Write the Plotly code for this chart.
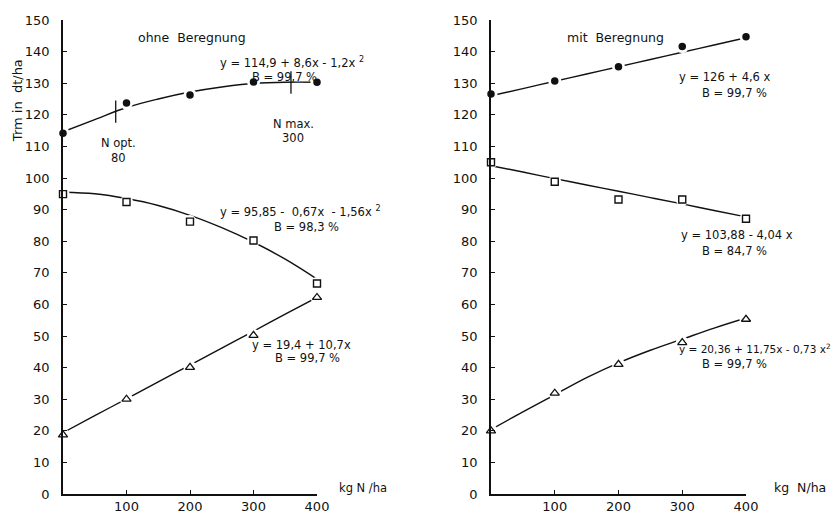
import plotly.graph_objects as go

# ---------------- data ----------------
n_levels = [0, 100, 200, 300, 400]

# ohne Beregnung (left)
left_dots = [114.2, 123.7, 126.3, 130.4, 130.3]
left_squares = [94.9, 92.4, 86.2, 80.2, 66.6]
left_triangles = [18.7, 30.0, 40.1, 50.2, 62.2]

# mit Beregnung (right)
right_dots = [126.6, 130.7, 135.2, 141.6, 144.7]
right_squares = [105.0, 98.8, 93.2, 93.2, 87.1]
right_triangles = [20.0, 31.9, 41.0, 47.9, 55.3]

# fitted curves
fit_x = [0, 50, 100, 150, 200, 250, 300, 350, 400]
left_dots_fit = [114.6, 118.5, 122.3, 125.0, 127.2, 128.8, 129.9, 130.3, 130.3]
left_squares_fit = [95.5, 95.0, 93.5, 91.3, 88.2, 84.3, 79.7, 74.3, 68.0]
left_triangles_fit = [19.4, 24.8, 30.1, 35.5, 40.8, 46.2, 51.5, 56.9, 62.2]
right_dots_fit = [126.0, 128.3, 130.6, 132.9, 135.2, 137.5, 139.8, 142.1, 144.4]
right_squares_fit = [103.9, 101.9, 99.8, 97.8, 95.8, 93.8, 91.8, 89.7, 87.7]
right_triangles_fit = [20.4, 26.0, 31.4, 36.8, 41.5, 45.5, 49.0, 52.5, 55.7]

# N opt / N max markers on the left dot curve
nmark_x = [83, 359]
nmark_y = [121.0, 130.2]

y_ticks = list(range(0, 151, 10))
x_ticks = [100, 200, 300, 400]
x_ticklabels = ["100", "200", "300", "400"]

FONT = "DejaVu Sans, Liberation Sans, sans-serif"
BLACK = "#111111"

fig = go.Figure()


def add_panel(xa, ya, dots, squares, tris, dfit, sfit, tfit):
    for fy in (dfit, sfit, tfit):
        fig.add_trace(go.Scatter(x=fit_x, y=fy, mode="lines", line=dict(color=BLACK, width=1.4, shape="spline"),
                                 xaxis=xa, yaxis=ya, showlegend=False, hoverinfo="skip"))
    # white masks to create gaps around markers
    for vals in (dots, squares, tris):
        fig.add_trace(go.Scatter(x=n_levels, y=vals, mode="markers",
                                 marker=dict(symbol="circle", size=13, color="white", line=dict(width=0)),
                                 xaxis=xa, yaxis=ya, showlegend=False, hoverinfo="skip", cliponaxis=False))
    fig.add_trace(go.Scatter(x=n_levels, y=dots, mode="markers",
                             marker=dict(symbol="circle", size=7.5, color=BLACK),
                             xaxis=xa, yaxis=ya, showlegend=False, cliponaxis=False))
    fig.add_trace(go.Scatter(x=n_levels, y=squares, mode="markers",
                             marker=dict(symbol="square-open", size=7, color=BLACK, line=dict(width=1.4, color=BLACK)),
                             xaxis=xa, yaxis=ya, showlegend=False, cliponaxis=False))
    fig.add_trace(go.Scatter(x=n_levels, y=tris, mode="markers",
                             marker=dict(symbol="triangle-up-open", size=8, color=BLACK, line=dict(width=1.3, color=BLACK)),
                             xaxis=xa, yaxis=ya, showlegend=False, cliponaxis=False))


add_panel("x", "y", left_dots, left_squares, left_triangles,
          left_dots_fit, left_squares_fit, left_triangles_fit)
add_panel("x2", "y2", right_dots, right_squares, right_triangles,
          right_dots_fit, right_squares_fit, right_triangles_fit)

fig.add_trace(go.Scatter(x=nmark_x, y=nmark_y, mode="markers",
                         marker=dict(symbol="line-ns", size=16, line=dict(width=1.3, color=BLACK)),
                         xaxis="x", yaxis="y", showlegend=False, hoverinfo="skip"))

W, H = 838, 514
axis_common = dict(showgrid=False, zeroline=False, showline=True, linecolor=BLACK, linewidth=1.5,
                   ticks="inside", ticklen=4, tickcolor=BLACK, tickwidth=1.2, automargin=False,
                   tickfont=dict(family=FONT, size=13, color=BLACK))

fig.update_layout(
    width=W, height=H,
    margin=dict(l=0, r=0, t=20, b=20),
    paper_bgcolor="white", plot_bgcolor="white",
    xaxis=dict(domain=[63 / W, 317 / W], range=[0, 400], tickvals=x_ticks, ticktext=x_ticklabels,
               anchor="y", ticklabelstandoff=0, **axis_common),
    yaxis=dict(domain=[0, 1], range=[0, 150], tickvals=y_ticks, anchor="x",
               ticklabelstandoff=9, **axis_common),
    xaxis2=dict(domain=[491 / W, 746 / W], range=[0, 400], tickvals=x_ticks, ticktext=x_ticklabels,
                anchor="y2", ticklabelstandoff=0, **axis_common),
    yaxis2=dict(domain=[0, 1], range=[0, 150], tickvals=y_ticks, anchor="x2",
                ticklabelstandoff=9, **axis_common),
    font=dict(family=FONT, color=BLACK),
)


def px(xp, yp, text, xanchor="left", size=11, angle=0):
    fig.add_annotation(x=xp / W, y=1 - yp / H, xref="paper", yref="paper", text=text, showarrow=False,
                       xanchor=xanchor, yanchor="middle", textangle=angle,
                       font=dict(family=FONT, size=size, color=BLACK))


# titles
px(192, 19, "ohne  Beregnung", xanchor="center", size=12.5)
px(615, 19, "mit  Beregnung", xanchor="center", size=12.5)
# y axis title
px(17, 88, "Trm in  dt/ha", xanchor="center", size=13, angle=-90)
# x unit labels
px(337, 507, "kg N /ha", size=11.5)
px(772, 507, "kg  N/ha", size=12.5)

# left equations
px(218, 46, "y = 114,9 + 8,6x - 1,2x <sup>2</sup>", size=11.5)
px(250, 62, "B = 99,7 %", size=11.5)
px(218, 208, "y = 95,85 -  0,67x  - 1,56x <sup>2</sup>", size=11.5)
px(272, 224, "B = 98,3 %", size=11.5)
px(250, 352, "y = 19,4 + 10,7x", size=11.5)
px(273, 367, "B = 99,7 %", size=11.5)
px(118, 133, "N opt.", xanchor="center", size=11.5)
px(118, 150, "80", xanchor="center", size=11.5)
px(293, 113, "N max.", xanchor="center", size=11.5)
px(293, 128, "300", xanchor="center", size=11.5)

# right equations
px(677, 62, "y = 126 + 4,6 x", size=11.5)
px(700, 79, "B = 99,7 %", size=11.5)
px(679, 233, "y = 103,88 - 4,04 x", size=11.5)
px(700, 250, "B = 84,7 %", size=11.5)
px(677, 356, "y = 20,36 + 11,75x - 0,73 x<sup>2</sup>", size=10.5)
px(700, 373, "B = 99,7 %", size=11.5)

fig.write_html("out.html", config={"displayModeBar": False},
               post_script="document.body.style.margin='0';document.body.style.overflow='hidden';")
